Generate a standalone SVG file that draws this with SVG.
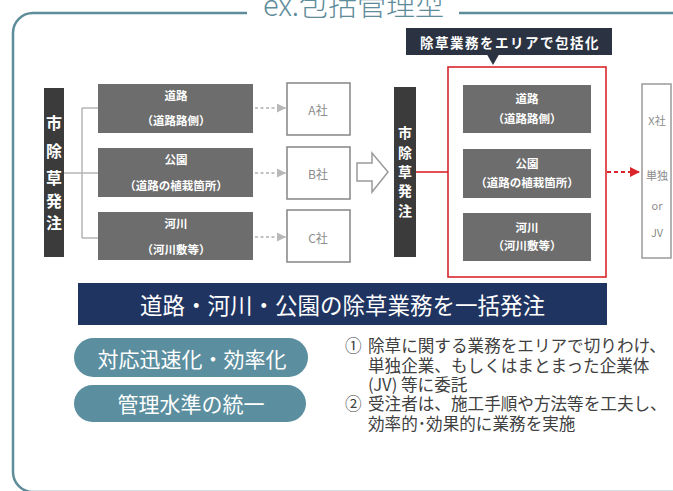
<svg xmlns="http://www.w3.org/2000/svg" width="673" height="491" viewBox="0 0 673 491">
<style>
text{font-family:"Noto Sans CJK JP","Noto Sans",sans-serif;dominant-baseline:central}
.frame{fill:none;stroke:#5e8c9a;stroke-width:2.5}
.bar{fill:#3b3b3b}
.gbox{fill:#6d6d6d}
.wt{fill:#fff;font-weight:bold;text-anchor:middle;font-size:11.5px}
.vt{fill:#fff;font-weight:bold;text-anchor:middle;font-size:16px}
.vt2{fill:#fff;font-weight:bold;text-anchor:middle;font-size:14px}
.cbox{fill:#fff;stroke:#8c8c8c;stroke-width:1.6}
.ct{fill:#8c8c8c;text-anchor:middle;font-size:12px}
.xt{fill:#8c8c8c;text-anchor:middle;font-size:11px}
.conn{stroke:#b5b5b5;stroke-width:1.5;fill:none}
.dash{stroke:#b0b0b0;stroke-width:1.5;stroke-dasharray:3 2.5;fill:none}
.pill{fill:#5b8e9e}
.pt{fill:#fff;text-anchor:middle;font-size:21px}
.lt{fill:#404040;font-size:16.6px}
</style>
<defs>
<marker id="ag" markerWidth="9" markerHeight="9" refX="9" refY="4.5" orient="auto" markerUnits="userSpaceOnUse"><path d="M0,0 L9,4.5 L0,9 Z" fill="#b8b8b8"/></marker>
<marker id="ar" markerWidth="10" markerHeight="10" refX="10" refY="5" orient="auto" markerUnits="userSpaceOnUse"><path d="M0,0 L10,5 L0,10 Z" fill="#d9252b"/></marker>
</defs>
<rect width="673" height="491" fill="#fff"/>

<g id="frame">
<path class="frame" d="M247,13 H33 A20,20 0 0 0 13,33 V472 A20,20 0 0 0 33,492 H673"/>
<path class="frame" d="M459,13 H673"/>
<text x="263" y="16" style="dominant-baseline:alphabetic" font-size="29" font-weight="300" fill="#5e8c9a">ex.包括管理型</text>
</g>

<g id="connectors">
<path class="conn" d="M64,173 H82 M82,108 V238 M82,108 H98 M82,173 H98 M82,238 H98"/>
<line class="dash" x1="255" y1="108" x2="286" y2="108" marker-end="url(#ag)"/>
<line class="dash" x1="255" y1="173" x2="286" y2="173" marker-end="url(#ag)"/>
<line class="dash" x1="255" y1="237" x2="286" y2="237" marker-end="url(#ag)"/>
<polygon points="357,163 372,163 372,153 388,172 372,192 372,181 357,181" fill="#fff" stroke="#9a9a9a" stroke-width="1.5"/>
<line x1="416" y1="172" x2="448" y2="172" stroke="#d9252b" stroke-width="1.6"/>
<line x1="607" y1="172" x2="640" y2="172" stroke="#d9252b" stroke-width="1.8" stroke-dasharray="4 3" marker-end="url(#ar)"/>
</g>

<g id="left-order">
<rect class="bar" x="44" y="88" width="20" height="169"/>
<text class="vt"><tspan x="54" y="122">市</tspan><tspan x="54" y="150">除</tspan><tspan x="54" y="177">草</tspan><tspan x="54" y="200">発</tspan><tspan x="54" y="222">注</tspan></text>
</g>

<g id="left-road">
<rect class="gbox" x="98" y="84" width="155" height="49"/>
<text class="wt" x="176" y="95">道路</text>
<text class="wt" x="176" y="120">（道路路側）</text>
</g>
<g id="left-park">
<rect class="gbox" x="98" y="148" width="155" height="49"/>
<text class="wt" x="176" y="159">公園</text>
<text class="wt" x="176" y="185">（道路の植栽箇所）</text>
</g>
<g id="left-river">
<rect class="gbox" x="98" y="212" width="155" height="48"/>
<text class="wt" x="176" y="223">河川</text>
<text class="wt" x="176" y="249">（河川敷等）</text>
</g>

<g id="company-a">
<rect class="cbox" x="287" y="83" width="63" height="52"/>
<text class="ct" x="318" y="109">A社</text>
</g>
<g id="company-b">
<rect class="cbox" x="287" y="147" width="63" height="52"/>
<text class="ct" x="318" y="173">B社</text>
</g>
<g id="company-c">
<rect class="cbox" x="287" y="210" width="63" height="52"/>
<text class="ct" x="318" y="237">C社</text>
</g>

<g id="mid-order">
<rect class="bar" x="394" y="87" width="22" height="170"/>
<text class="vt2"><tspan x="405" y="132">市</tspan><tspan x="405" y="152">除</tspan><tspan x="405" y="171">草</tspan><tspan x="405" y="190">発</tspan><tspan x="405" y="210">注</tspan></text>
</g>

<g id="callout">
<rect x="406" y="28" width="206" height="27" fill="#2b3342"/>
<polygon points="487,54.5 499,54.5 493,65" fill="#2b3342"/>
<text x="510" y="41.5" fill="#fff" font-weight="bold" font-size="13.5" text-anchor="middle" letter-spacing="1.5">除草業務をエリアで包括化</text>
</g>

<g id="area-box">
<rect x="448" y="67" width="158" height="210" fill="none" stroke="#d9252b" stroke-width="1.6"/>
</g>
<g id="area-road">
<rect class="gbox" x="463" y="85" width="128" height="48"/>
<text class="wt" x="527" y="98">道路</text>
<text class="wt" x="527" y="118">（道路路側）</text>
</g>
<g id="area-park">
<rect class="gbox" x="463" y="149" width="128" height="49"/>
<text class="wt" x="527" y="163">公園</text>
<text class="wt" x="527" y="182">（道路の植栽箇所）</text>
</g>
<g id="area-river">
<rect class="gbox" x="463" y="213" width="128" height="48"/>
<text class="wt" x="527" y="227">河川</text>
<text class="wt" x="527" y="245">（河川敷等）</text>
</g>

<g id="company-x">
<rect x="642" y="84" width="29" height="174" fill="#fff" stroke="#9a9a9a" stroke-width="1.5"/>
<text class="xt" x="657" y="120">X社</text>
<text class="xt" x="657" y="175">単独</text>
<text class="xt" x="657" y="205">or</text>
<text class="xt" x="657" y="232">JV</text>
</g>

<g id="banner">
<rect x="78" y="283" width="529" height="42" fill="#1f3461"/>
<text x="342.5" y="303.5" fill="#fff" font-size="22.5" text-anchor="middle">道路・河川・公園の除草業務を一括発注</text>
</g>

<g id="pill-speed">
<rect class="pill" x="74" y="338" width="234" height="39" rx="19.5"/>
<text class="pt" x="192" y="357.5">対応迅速化・効率化</text>
</g>
<g id="pill-standard">
<rect class="pill" x="74" y="385" width="232" height="37" rx="18.5"/>
<text class="pt" x="191" y="403">管理水準の統一</text>
</g>

<g id="notes">
<text class="lt" x="345" y="345">①</text>
<text class="lt" x="368" y="345">除草に関する業務をエリアで切りわけ、</text>
<text class="lt" x="368" y="365">単独企業、もしくはまとまった企業体</text>
<text class="lt" x="368" y="384">(JV) 等に委託</text>
<text class="lt" x="345" y="403">②</text>
<text class="lt" x="368" y="403">受注者は、施工手順や方法等を工夫し、</text>
<text class="lt" x="368" y="423">効率的･効果的に業務を実施</text>
</g>
</svg>
